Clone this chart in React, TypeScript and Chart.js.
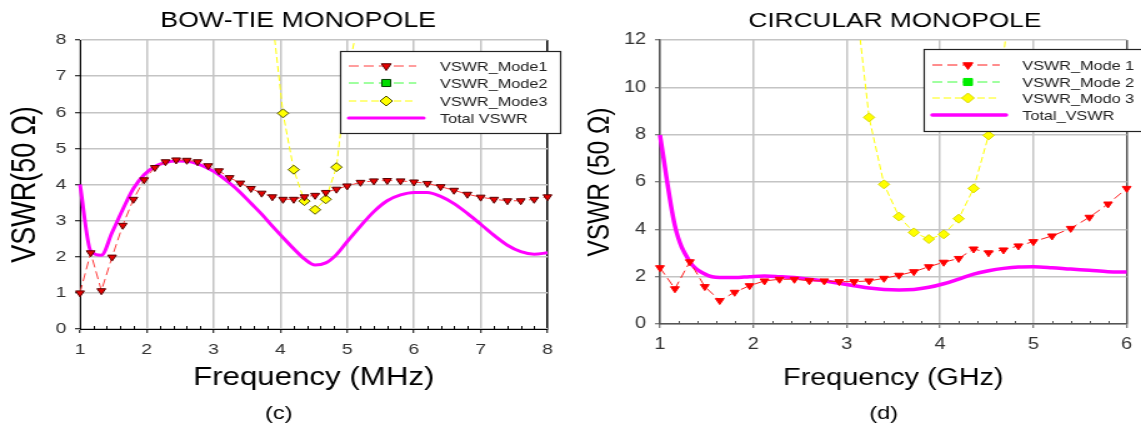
import React, { useEffect, useRef } from "react";
import { Chart, registerables } from "chart.js";

Chart.register(...registerables);

const FONT = '"Liberation Sans", Arial, Helvetica, sans-serif';
Chart.defaults.font.family = FONT;

// ---------- BOW-TIE MONOPOLE (c) ----------
const bowtieFreq = [1, 1.16, 1.32, 1.48, 1.64, 1.8, 1.96, 2.12, 2.28, 2.44, 2.6, 2.76, 2.92, 3.08, 3.24, 3.4, 3.56, 3.72, 3.88, 4.04, 4.2, 4.36, 4.52, 4.68, 4.84, 5, 5.2, 5.4, 5.6, 5.8, 6, 6.2, 6.4, 6.6, 6.8, 7, 7.2, 7.4, 7.6, 7.8, 8];
const bowtieMode1 = [1.0, 2.11, 1.06, 1.99, 2.87, 3.59, 4.13, 4.47, 4.63, 4.68, 4.67, 4.63, 4.52, 4.38, 4.19, 4.04, 3.89, 3.76, 3.66, 3.59, 3.59, 3.66, 3.7, 3.78, 3.87, 3.96, 4.06, 4.1, 4.11, 4.1, 4.07, 4.03, 3.94, 3.84, 3.73, 3.65, 3.59, 3.55, 3.55, 3.59, 3.66];
const bowtieMode2Freq: number[] = [];
const bowtieMode2: number[] = [];
const bowtieMode3Freq = [3.72, 3.88, 4.04, 4.2, 4.36, 4.52, 4.68, 4.84, 5, 5.2];
const bowtieMode3 = [13, 8.6, 5.97, 4.41, 3.54, 3.3, 3.59, 4.48, 7.0, 8.8];
const bowtieTotal = [4.0, 2.16, 2.04, 2.67, 3.31, 3.89, 4.27, 4.5, 4.61, 4.65, 4.64, 4.57, 4.44, 4.27, 4.04, 3.78, 3.48, 3.18, 2.85, 2.53, 2.22, 1.94, 1.77, 1.83, 2.06, 2.42, 2.85, 3.25, 3.55, 3.71, 3.78, 3.78, 3.67, 3.47, 3.2, 2.9, 2.59, 2.32, 2.14, 2.07, 2.11];
const bowtieLabels = ["VSWR_Mode1", "VSWR_Mode2", "VSWR_Mode3", "Total VSWR"];

// ---------- CIRCULAR MONOPOLE (d) ----------
const circFreq = [1, 1.16, 1.32, 1.48, 1.64, 1.8, 1.96, 2.12, 2.28, 2.44, 2.6, 2.76, 2.92, 3.08, 3.24, 3.4, 3.56, 3.72, 3.88, 4.04, 4.2, 4.36, 4.52, 4.68, 4.84, 5, 5.2, 5.4, 5.6, 5.8, 6];
const circMode1 = [2.38, 1.49, 2.63, 1.58, 0.99, 1.34, 1.62, 1.82, 1.89, 1.89, 1.83, 1.82, 1.79, 1.79, 1.82, 1.93, 2.06, 2.21, 2.42, 2.61, 2.77, 3.17, 3.01, 3.13, 3.3, 3.48, 3.72, 4.04, 4.51, 5.07, 5.73];
const circMode2Freq: number[] = [];
const circMode2: number[] = [];
const circMode3Freq = [2.92, 3.08, 3.24, 3.4, 3.56, 3.72, 3.88, 4.04, 4.2, 4.36, 4.52, 4.68, 4.84];
const circMode3 = [20, 14.3, 8.73, 5.9, 4.54, 3.87, 3.59, 3.79, 4.45, 5.73, 7.97, 11.3, 17];
const circTotal = [7.99, 4.15, 2.63, 2.11, 1.96, 1.96, 2.0, 2.03, 2.0, 1.96, 1.89, 1.82, 1.72, 1.62, 1.52, 1.46, 1.44, 1.46, 1.55, 1.7, 1.9, 2.11, 2.25, 2.35, 2.41, 2.42, 2.38, 2.32, 2.27, 2.21, 2.2];
const circLabels = ["VSWR_Mode 1", "VSWR_Mode 2", "VSWR_Modo 3", "Total_VSWR"];

const zip = (xs: number[], ys: number[]) => xs.map((x, i) => ({ x, y: ys[i] }));

function drawMarker(ctx: CanvasRenderingContext2D, style: string, x: number, y: number, r: number, fill: string, stroke: string, bw: number) {
  ctx.beginPath();
  if (style === "triangle") {
    ctx.moveTo(x, y + r);
    ctx.lineTo(x - r * 0.866, y - r / 2);
    ctx.lineTo(x + r * 0.866, y - r / 2);
  } else if (style === "rect") {
    const h = r * Math.SQRT1_2;
    ctx.rect(x - h, y - h, 2 * h, 2 * h);
  } else {
    ctx.moveTo(x, y - r);
    ctx.lineTo(x + r, y);
    ctx.lineTo(x, y + r);
    ctx.lineTo(x - r, y);
  }
  ctx.closePath();
  ctx.setLineDash([]);
  ctx.fillStyle = fill;
  ctx.fill();
  ctx.lineWidth = bw;
  ctx.strokeStyle = stroke;
  ctx.stroke();
}

const decorPlugin = {
  id: "decor",
  afterDraw(chart: any, _args: any, opts: any) {
    const ctx: CanvasRenderingContext2D = chart.ctx;
    const xs = chart.scales.x;
    const area = chart.chartArea;
    ctx.save();
    // minor ticks on x axis
    ctx.strokeStyle = opts.axisColor;
    ctx.lineWidth = 1;
    const n = Math.round((xs.max - xs.min) / opts.minorStep);
    for (let i = 1; i < n; i++) {
      const v = xs.min + i * opts.minorStep;
      if (Math.abs(v - Math.round(v)) < 1e-6) continue;
      const px = Math.round(xs.getPixelForValue(v)) + 0.5;
      ctx.beginPath();
      ctx.moveTo(px, area.bottom);
      ctx.lineTo(px, area.bottom - opts.minorLen);
      ctx.stroke();
    }
    // title and caption
    ctx.fillStyle = "#000";
    ctx.textAlign = "center";
    ctx.textBaseline = "middle";
    ctx.font = `${opts.titleSize}px ${FONT}`;
    ctx.fillText(opts.title, opts.titleX, opts.titleY);
    ctx.font = `${opts.captionSize}px ${FONT}`;
    ctx.fillText(opts.caption, opts.captionX, opts.captionY);
    // legend
    const L = opts.legend;
    ctx.fillStyle = "#fff";
    ctx.fillRect(L.x, L.y, L.w, L.h);
    ctx.strokeStyle = "#222";
    ctx.lineWidth = 1.2;
    ctx.strokeRect(L.x + 0.5, L.y + 0.5, L.w, L.h);
    chart.data.datasets.forEach((ds: any, i: number) => {
      const y = L.rowY[i];
      const hasMarker = (ds.pointRadius || 0) > 0;
      ctx.setLineDash(ds.borderDash || []);
      ctx.strokeStyle = ds.borderColor;
      ctx.lineWidth = ds.borderWidth;
      ctx.lineCap = hasMarker ? "butt" : "round";
      ctx.beginPath();
      ctx.moveTo(L.x0, y);
      ctx.lineTo(hasMarker ? L.x1 : L.x1Thick, y);
      ctx.stroke();
      if (hasMarker) {
        drawMarker(ctx, ds.pointStyle, L.xm, y, ds.pointRadius + 0.5, ds.pointBackgroundColor, ds.pointBorderColor, ds.pointBorderWidth);
      }
      ctx.fillStyle = "#222";
      ctx.textAlign = "left";
      ctx.textBaseline = "middle";
      ctx.font = `${L.fontSize}px ${FONT}`;
      ctx.fillText(ds.label, L.xt, y + 1);
    });
    ctx.restore();
  },
};

type Panel = {
  labels: string[];
  f1: number[]; m1: number[];
  f2: number[]; m2: number[];
  f3: number[]; m3: number[];
  ft: number[]; tot: number[];
  dark: boolean;
};

function makeDatasets(p: Panel) {
  const clip = { left: 8, right: 8, top: 0, bottom: 8 };
  return [
    {
      label: p.labels[0],
      data: zip(p.f1, p.m1),
      borderColor: p.dark ? "#ff3c3c" : "#ff1a1a",
      borderWidth: 1,
      borderDash: [8, 4],
      pointStyle: "triangle",
      pointRotation: 180,
      pointRadius: 4,
      pointBackgroundColor: p.dark ? "#e80000" : "#ff0000",
      pointBorderColor: p.dark ? "#5a0000" : "#ff0000",
      pointBorderWidth: 1,
      tension: 0,
      clip,
    },
    {
      label: p.labels[1],
      data: zip(p.f2, p.m2),
      borderColor: "#40ff40",
      borderWidth: 1,
      borderDash: [8, 4],
      pointStyle: "rect",
      pointRadius: 4.5,
      pointBackgroundColor: p.dark ? "#00dd00" : "#00ee00",
      pointBorderColor: p.dark ? "#004000" : "#00ee00",
      pointBorderWidth: 1,
      tension: 0,
      clip,
    },
    {
      label: p.labels[2],
      data: zip(p.f3, p.m3),
      borderColor: "#ffff00",
      borderWidth: 1,
      borderDash: [6, 3],
      pointStyle: "rectRot",
      pointRadius: 4.5,
      pointBackgroundColor: "#ffff00",
      pointBorderColor: p.dark ? "#505000" : "#d8d800",
      pointBorderWidth: 1,
      tension: 0,
      clip,
    },
    {
      label: p.labels[3],
      data: zip(p.ft, p.tot),
      borderColor: "#ff00ff",
      borderWidth: p.dark ? 3 : 3.5,
      pointRadius: 0,
      cubicInterpolationMode: "monotone",
      clip,
    },
  ];
}

function axisCommon(opts: any) {
  const gridColor = "#c4c4c4";
  return {
    x: {
      type: "linear",
      min: opts.xMin,
      max: opts.xMax,
      afterFit: (s: any) => { s.height = opts.xHeight; },
      ticks: { stepSize: 1, padding: 7, color: "#333", font: { family: FONT, size: opts.tickSize }, maxRotation: 0 },
      grid: {
        color: (c: any) => (c.tick && c.tick.value === opts.xMax ? opts.axisColor : gridColor),
        lineWidth: 1.5,
        tickLength: 4,
        tickColor: opts.axisColor,
        tickWidth: 1,
      },
      border: { color: opts.axisColor, width: opts.axisWidth },
      title: { display: true, text: opts.xTitle, color: "#000", font: { family: FONT, size: opts.xTitleSize }, padding: { top: 4, bottom: 4 } },
    },
    y: {
      min: 0,
      max: opts.yMax,
      afterFit: (s: any) => { s.width = opts.yWidth; },
      ticks: { stepSize: opts.yStep, padding: 7, color: "#333", font: { family: FONT, size: opts.tickSize } },
      grid: { color: gridColor, lineWidth: 1.5, tickLength: 4, tickColor: opts.axisColor, tickWidth: 1 },
      border: { color: opts.axisColor, width: opts.axisWidth },
      title: { display: true, text: opts.yTitle, color: "#000", font: { family: FONT, size: opts.yTitleSize }, padding: { top: 4, bottom: 4 } },
    },
  };
}

function bowtieConfig(): any {
  const p: Panel = {
    labels: bowtieLabels,
    f1: bowtieFreq, m1: bowtieMode1,
    f2: bowtieMode2Freq, m2: bowtieMode2,
    f3: bowtieMode3Freq, m3: bowtieMode3,
    ft: bowtieFreq, tot: bowtieTotal,
    dark: true,
  };
  return {
    type: "line",
    data: { datasets: makeDatasets(p) },
    plugins: [decorPlugin],
    options: {
      animation: false,
      responsive: false,
      devicePixelRatio: 1,
      layout: { padding: { left: 0, right: 18, top: 40, bottom: 33 } },
      plugins: {
        legend: { display: false },
        title: { display: false },
        tooltip: { enabled: false },
        decor: {
          axisColor: "#000",
          minorStep: 0.2,
          minorLen: 3,
          title: "BOW-TIE MONOPOLE",
          titleSize: 21.4,
          titleX: 238.5,
          titleY: 21,
          caption: "(c)",
          captionSize: 19,
          captionX: 223,
          captionY: 414,
          legend: { x: 272, y: 51, w: 176, h: 82, rowY: [66, 83, 101, 118], x0: 279, x1: 333, x1Thick: 339, xm: 309, xt: 352, fontSize: 13 },
        },
      },
      scales: axisCommon({
        xMin: 1, xMax: 8, xHeight: 68, tickSize: 15.5, axisColor: "#000", axisWidth: 1,
        xTitle: "Frequency (MHz)", xTitleSize: 25,
        yMax: 8, yStep: 1, yWidth: 64, yTitle: "VSWR(50 Ω)", yTitleSize: 27,
      }),
    },
  };
}

function circularConfig(): any {
  const p: Panel = {
    labels: circLabels,
    f1: circFreq, m1: circMode1,
    f2: circMode2Freq, m2: circMode2,
    f3: circMode3Freq, m3: circMode3,
    ft: circFreq, tot: circTotal,
    dark: false,
  };
  return {
    type: "line",
    data: { datasets: makeDatasets(p) },
    plugins: [decorPlugin],
    options: {
      animation: false,
      responsive: false,
      devicePixelRatio: 1,
      layout: { padding: { left: 6, right: 6, top: 40, bottom: 34 } },
      plugins: {
        legend: { display: false },
        title: { display: false },
        tooltip: { enabled: false },
        decor: {
          axisColor: "#555",
          minorStep: 0.2,
          minorLen: 3,
          title: "CIRCULAR MONOPOLE",
          titleSize: 21,
          titleX: 260,
          titleY: 21,
          caption: "(d)",
          captionSize: 19,
          captionX: 251,
          captionY: 414,
          legend: { x: 283, y: 49, w: 180, h: 82, rowY: [65, 82, 98, 115], x0: 290, x1: 344, x1Thick: 349, xm: 318.5, xt: 362, fontSize: 13 },
        },
      },
      scales: axisCommon({
        xMin: 1, xMax: 6, xHeight: 72, tickSize: 16, axisColor: "#555", axisWidth: 1.5,
        xTitle: "Frequency (GHz)", xTitleSize: 23,
        yMax: 12, yStep: 2, yWidth: 66, yTitle: "VSWR (50 Ω)", yTitleSize: 24.5,
      }),
    },
  };
}

function StretchedChart({ makeConfig, left, cssWidth, bmpWidth }: { makeConfig: () => any; left: number; cssWidth: number; bmpWidth: number }) {
  const ref = useRef<HTMLCanvasElement | null>(null);
  useEffect(() => {
    if (!ref.current) return;
    const chart = new Chart(ref.current, makeConfig());
    return () => chart.destroy();
  }, []);
  return (
    <canvas
      ref={ref}
      width={bmpWidth}
      height={430}
      style={{ position: "absolute", left, top: 0, width: cssWidth, height: 430, display: "block" }}
    />
  );
}

export default function App() {
  return (
    <div style={{ position: "absolute", left: 0, top: 0, width: 1141, height: 430, background: "#fff", overflow: "hidden" }}>
      <StretchedChart makeConfig={bowtieConfig} left={0} cssWidth={570} bmpWidth={456} />
      <StretchedChart makeConfig={circularConfig} left={570} cssWidth={571} bmpWidth={457} />
    </div>
  );
}
